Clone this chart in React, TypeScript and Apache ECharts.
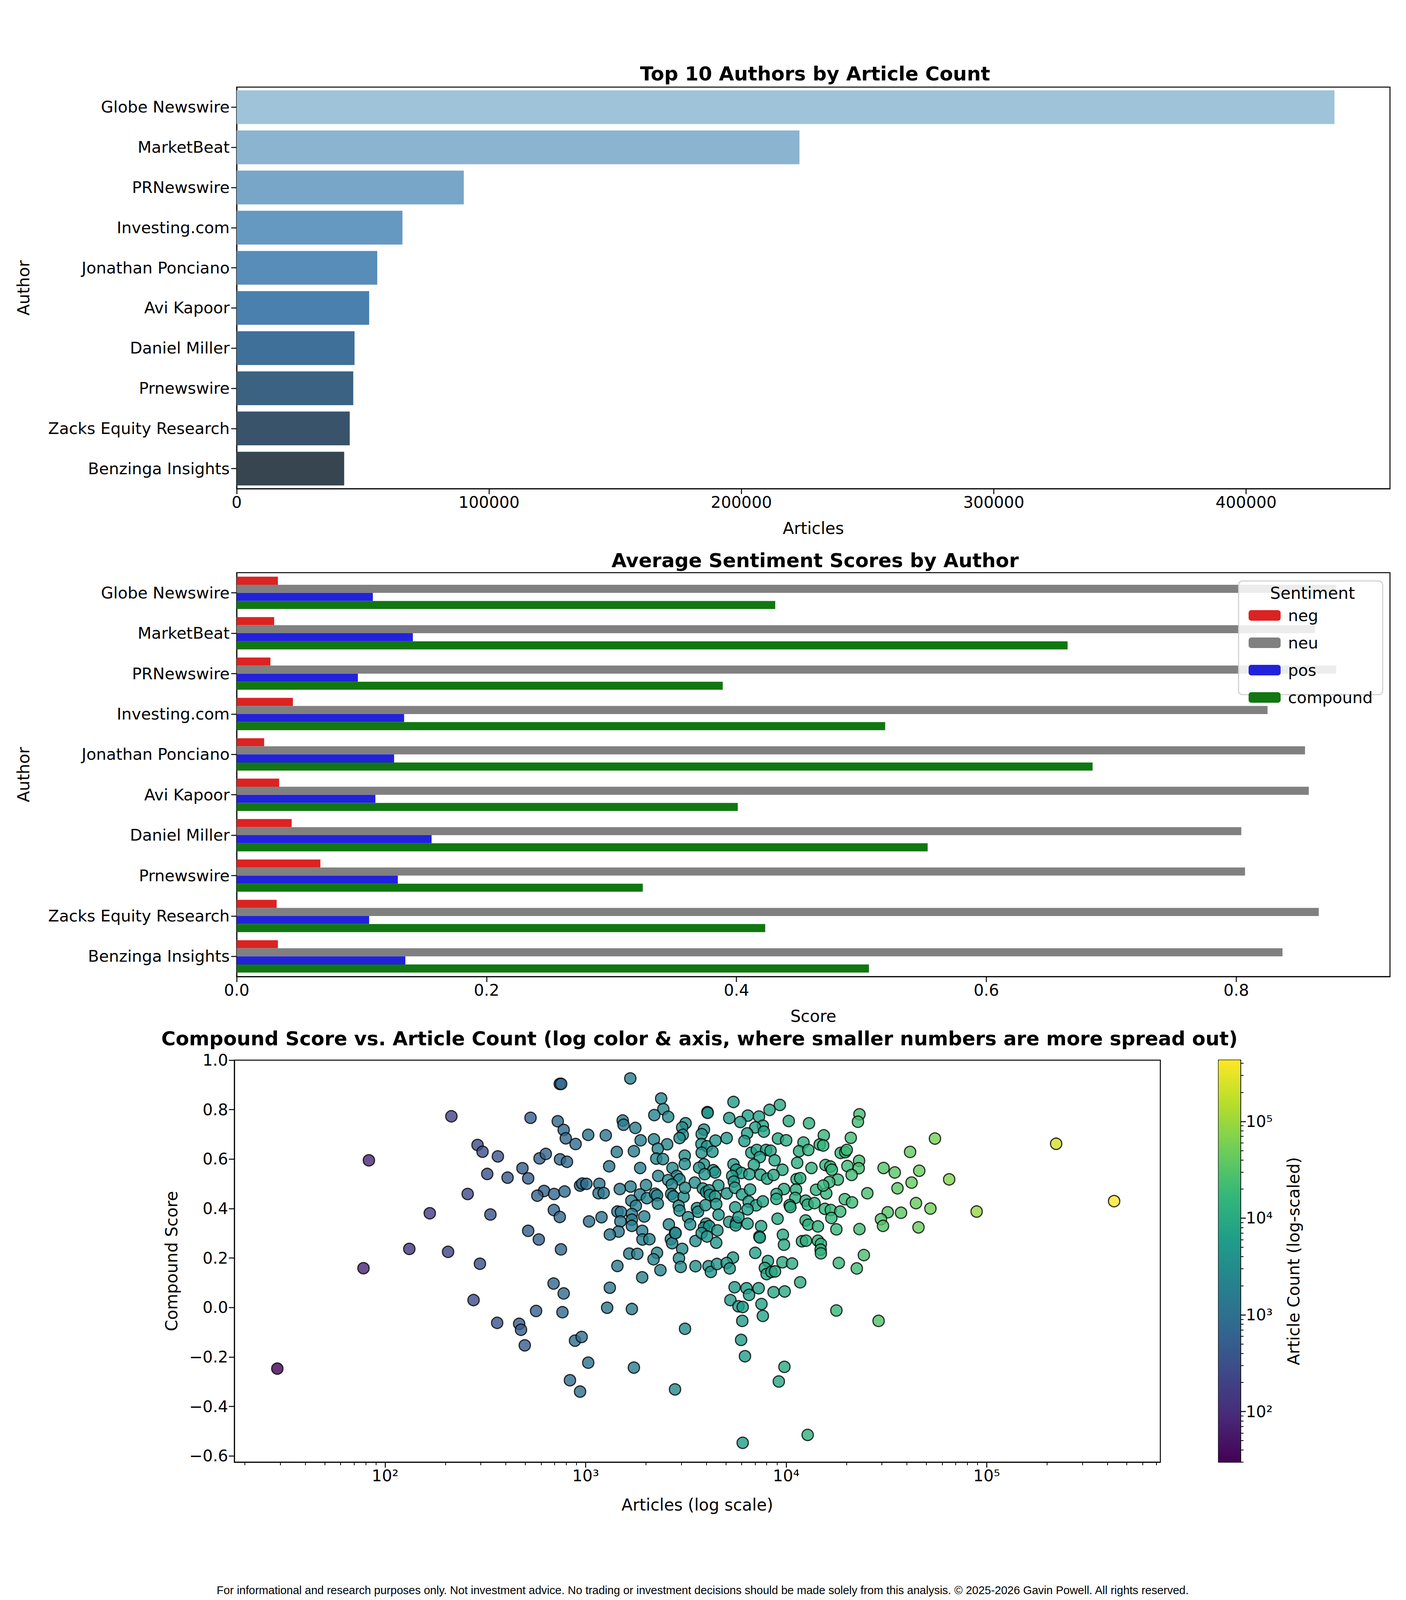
import React, { useEffect, useRef } from 'react';
import * as echarts from 'echarts';

// authors, top to bottom
const authors = [
  'Globe Newswire', 'MarketBeat', 'PRNewswire', 'Investing.com', 'Jonathan Ponciano',
  'Avi Kapoor', 'Daniel Miller', 'Prnewswire', 'Zacks Equity Research', 'Benzinga Insights',
];
const articleCounts = [435000, 223000, 90000, 65700, 55700, 52500, 46700, 46200, 44800, 42600];
const barColors = ['#9fc3d9', '#8bb4d0', '#77a6c8', '#6699c2', '#588db9', '#4a80ae', '#3f709a', '#3b6281', '#38536a', '#36454f'];

const negScores = [0.033, 0.030, 0.027, 0.045, 0.022, 0.034, 0.044, 0.067, 0.032, 0.033];
const neuScores = [0.880, 0.863, 0.880, 0.825, 0.855, 0.858, 0.804, 0.807, 0.866, 0.837];
const posScores = [0.109, 0.141, 0.097, 0.134, 0.126, 0.111, 0.156, 0.129, 0.106, 0.135];
const compoundScores = [0.431, 0.665, 0.389, 0.519, 0.685, 0.401, 0.553, 0.325, 0.423, 0.506];

// [articles, compound score] for every author
const authorPoints: [number, number][] = [
  [214, 0.773], [531, 0.767], [726, 0.753], [777, 0.718], [796, 0.684], [891, 0.661], [743, 0.904], [755, 0.904],
  [289, 0.657], [306, 0.630], [365, 0.611], [83, 0.595], [589, 0.603], [633, 0.621], [745, 0.599], [807, 0.589],
  [484, 0.563], [323, 0.540], [408, 0.525], [517, 0.522], [938, 0.493], [961, 0.501], [258, 0.459], [620, 0.471],
  [574, 0.452], [696, 0.459], [785, 0.469], [167, 0.381], [335, 0.376], [694, 0.394], [743, 0.366], [517, 0.310],
  [584, 0.275], [132, 0.237], [206, 0.225], [753, 0.235], [78, 0.159], [297, 0.177], [692, 0.097], [777, 0.057],
  [276, 0.030], [566, -0.014], [766, -0.019], [362, -0.062], [466, -0.066], [476, -0.090], [497, -0.153],
  [885, -0.134], [955, -0.119], [29, -0.247], [835, -0.294], [938, -0.340],
  [1670, 0.926], [2380, 0.845], [5460, 0.831], [9300, 0.819], [2440, 0.802], [4050, 0.790], [4060, 0.787],
  [2200, 0.778], [2580, 0.771], [8260, 0.799], [6440, 0.776], [7320, 0.772], [5200, 0.766], [5910, 0.750],
  [23200, 0.781], [22800, 0.751], [10300, 0.754], [13000, 0.745], [1530, 0.756], [1545, 0.739], [1770, 0.726],
  [3150, 0.745], [3030, 0.728], [3890, 0.719], [7650, 0.735], [7010, 0.728], [7740, 0.711], [6390, 0.704],
  [3790, 0.701], [3050, 0.698], [2940, 0.685], [5050, 0.685], [9100, 0.683], [10000, 0.676], [2190, 0.680],
  [1880, 0.676], [1260, 0.696], [1030, 0.698], [55200, 0.683], [222000, 0.662], [21000, 0.686], [15400, 0.696],
  [2550, 0.660], [2290, 0.642], [3780, 0.661], [4030, 0.652], [4440, 0.675], [6190, 0.673], [12200, 0.667],
  [14700, 0.659], [15300, 0.655], [1430, 0.629], [1740, 0.632], [3790, 0.626], [4290, 0.630], [6700, 0.626],
  [7140, 0.637], [7940, 0.637], [8360, 0.634], [11600, 0.632], [12900, 0.637], [18700, 0.625], [19700, 0.628],
  [20050, 0.637], [41500, 0.629], [3120, 0.614], [2250, 0.602], [2430, 0.600], [7390, 0.608], [8760, 0.595],
  [1310, 0.571], [1870, 0.564], [2710, 0.564], [3120, 0.580], [3890, 0.579], [3680, 0.565], [4330, 0.555],
  [4420, 0.546], [5460, 0.579], [5640, 0.557], [5990, 0.544], [6900, 0.577], [9580, 0.557], [11350, 0.585],
  [13370, 0.564], [15700, 0.576], [16600, 0.570], [16900, 0.557], [20200, 0.572], [23100, 0.593], [23000, 0.563],
  [30600, 0.564], [34800, 0.546], [46100, 0.553], [2300, 0.532], [2850, 0.532], [2938, 0.518], [3920, 0.539],
  [5380, 0.532], [6550, 0.539], [7450, 0.537], [8040, 0.521], [8650, 0.536], [11270, 0.519], [11750, 0.523],
  [21200, 0.536], [18100, 0.517], [65000, 0.518], [1170, 0.500], [1009, 0.500], [2000, 0.495], [2580, 0.515],
  [2690, 0.497], [3500, 0.505], [4590, 0.494], [5480, 0.509], [1675, 0.489], [1480, 0.479], [1160, 0.462],
  [1230, 0.463], [1865, 0.457], [2020, 0.442], [2220, 0.460], [2270, 0.453], [2670, 0.459], [2740, 0.449],
  [3080, 0.448], [3130, 0.484], [3840, 0.481], [3990, 0.467], [4130, 0.474], [4160, 0.455], [4420, 0.449],
  [5060, 0.461], [5550, 0.484], [6020, 0.457], [6610, 0.477], [9750, 0.479], [8950, 0.459], [11200, 0.477],
  [8940, 0.439], [11100, 0.443], [14100, 0.476], [15850, 0.461], [16400, 0.507], [15300, 0.493], [25400, 0.462],
  [35900, 0.482], [42200, 0.505], [19600, 0.438], [21300, 0.425], [44400, 0.422], [1690, 0.432], [1780, 0.411],
  [2290, 0.420], [2910, 0.411], [2938, 0.392], [3590, 0.402], [3634, 0.387], [3960, 0.414], [4480, 0.418],
  [6500, 0.428], [7080, 0.413], [7650, 0.429], [10400, 0.414], [10500, 0.406], [12500, 0.432], [12800, 0.416],
  [13840, 0.422], [6420, 0.397], [5570, 0.405], [15600, 0.399], [16700, 0.394], [18600, 0.388], [32100, 0.385],
  [37400, 0.383], [52400, 0.400], [89100, 0.388], [432000, 0.430], [1440, 0.388], [1500, 0.386], [1700, 0.378],
  [1700, 0.355], [1960, 0.368], [1200, 0.365], [1040, 0.348], [1490, 0.348], [3240, 0.365], [4600, 0.375],
  [5200, 0.346], [5640, 0.344], [5600, 0.332], [5780, 0.365], [6420, 0.339], [7500, 0.329], [9060, 0.359],
  [12500, 0.352], [12900, 0.335], [14400, 0.328], [16800, 0.362], [29700, 0.357], [30400, 0.330], [45700, 0.324],
  [17800, 0.316], [23200, 0.317], [1700, 0.330], [2600, 0.336], [3320, 0.336], [3990, 0.339], [3890, 0.323],
  [4130, 0.329], [4540, 0.312], [1460, 0.307], [1914, 0.310], [1320, 0.295], [1920, 0.275], [2080, 0.276],
  [2660, 0.276], [2700, 0.260], [2790, 0.302], [2810, 0.301], [3530, 0.269], [3790, 0.301], [4030, 0.287],
  [4480, 0.262], [7350, 0.287], [7390, 0.283], [9630, 0.294], [9750, 0.254], [11990, 0.268], [12560, 0.270],
  [14400, 0.270], [14900, 0.257], [14850, 0.234], [14900, 0.219], [3030, 0.237], [1650, 0.218], [1810, 0.217],
  [2270, 0.221], [2180, 0.195], [2920, 0.199], [5430, 0.202], [7010, 0.221], [24400, 0.212], [1440, 0.168],
  [2360, 0.151], [2980, 0.164], [3530, 0.167], [4100, 0.167], [4210, 0.144], [4520, 0.176], [5050, 0.180],
  [5230, 0.158], [8110, 0.188], [7830, 0.160], [7990, 0.135], [8440, 0.144], [8800, 0.146], [9580, 0.183],
  [10700, 0.178], [18300, 0.180], [22500, 0.158], [1914, 0.122], [11750, 0.102], [1320, 0.080], [5530, 0.082],
  [6340, 0.078], [6530, 0.051], [7290, 0.078], [8650, 0.062], [9830, 0.065], [5270, 0.030], [5780, 0.005],
  [6070, 0.002], [7530, 0.014], [7650, -0.034], [1280, -0.001], [1700, -0.006], [17800, -0.012], [28900, -0.054],
  [6040, -0.054], [3130, -0.086], [5960, -0.131], [6230, -0.197], [1030, -0.223], [1740, -0.243], [9800, -0.240],
  [9190, -0.299], [2790, -0.331], [12800, -0.515], [6070, -0.547],
];

const scoreTicks = [-0.6, -0.4, -0.2, 0.0, 0.2, 0.4, 0.6, 0.8, 1.0];
const logTicks = [2, 3, 4, 5];
const viridis = ['#440154', '#482878', '#3e4989', '#31688e', '#26828e', '#1f9e89', '#35b779', '#6ece58', '#b5de2b', '#fde725'];
const FONT = 'DejaVu Sans';

const sup: Record<number, string> = { 2: '²', 3: '³', 4: '⁴', 5: '⁵' };
const minorLogs = (lo: number, hi: number) => {
  const out: number[] = [];
  for (let e = 1; e <= 5; e++) {
    for (let k = 2; k <= 9; k++) {
      const v = Math.log10(k * Math.pow(10, e));
      if (v >= lo && v <= hi) out.push(v);
    }
  }
  return out;
};

const App: React.FC = () => {
  const chartRef = useRef<HTMLDivElement>(null);
  const height = Math.min(window.innerHeight || 4580, 4580);

  useEffect(() => {
    const chart = echarts.init(chartRef.current!, null, { renderer: 'svg' });
    // layout is measured on a 4580px tall page; squeeze it to the real viewport
    const k = height / 4580;
    const sy = (v: number) => Math.round(v * k);

    const xMin = 1.248, xMax = 5.866;
    const cMin = Math.log10(30), cMax = Math.log10(430000);
    const tickLabel = { fontFamily: FONT, fontSize: 41, color: '#000' };
    const nameStyle = { fontFamily: FONT, fontSize: 42, color: '#000' };
    const axisLine = { show: true, onZero: false, lineStyle: { color: '#000', width: 2.5 } };
    const axisTick = { show: true, length: 14, lineStyle: { color: '#000', width: 2.5 } };
    const minorTick = { show: true, length: 8, lineStyle: { color: '#000', width: 2 } };
    const box = { show: true, borderColor: '#000', borderWidth: 2.5, backgroundColor: 'transparent' };
    const bold = { fontFamily: FONT, fontSize: 50, fontWeight: 'bold', color: '#000' };

    const sentiment: [string, number[], string][] = [
      ['neg', negScores, '#dd2222'],
      ['neu', neuScores, '#808080'],
      ['pos', posScores, '#2222dd'],
      ['compound', compoundScores, '#117711'],
    ];

    const series: any[] = [
      { type: 'bar', xAxisIndex: 0, yAxisIndex: 0, barCategoryGap: '16%',
        data: articleCounts.map((v, i) => ({ value: v, itemStyle: { color: barColors[i] } })) },
      ...sentiment.map(([name, data, color]) => ({
        name, type: 'bar', xAxisIndex: 1, yAxisIndex: 1, data, barGap: '0%', barCategoryGap: '20%',
        itemStyle: { color },
      })),
      { type: 'scatter', xAxisIndex: 2, yAxisIndex: 2, symbolSize: 29,
        data: authorPoints.map(([a, s]) => [Math.log10(a), s, Math.log10(a)]),
        itemStyle: { opacity: 0.8, borderColor: '#000', borderWidth: 3 } },
    ];

    const option: any = {
      animation: false,
      backgroundColor: '#fff',
      title: [
        { text: 'Top 10 Authors by Article Count', left: 2082, top: sy(178), textAlign: 'center', textStyle: bold },
        { text: 'Average Sentiment Scores by Author', left: 2082, top: sy(1571), textAlign: 'center', textStyle: bold },
        { text: 'Compound Score vs. Article Count (log color & axis, where smaller numbers are more spread out)',
          left: 1786, top: sy(2940), textAlign: 'center', textStyle: bold },
      ],
      grid: [
        { left: 606, width: 2953, top: sy(249), height: sy(1150), ...box },
        { left: 606, width: 2953, top: sy(1639), height: sy(1156), ...box },
        { left: 600, width: 2371, top: sy(3035), height: sy(1151), ...box },
        { left: 3120, width: 56, top: sy(3035), height: sy(1151), ...box },
      ],
      legend: {
        data: ['neg', 'neu', 'pos', 'compound'],
        orient: 'vertical', left: 3192, top: sy(1733), itemWidth: 82, itemHeight: 27, itemGap: sy(63) - 27, z: 10,
        textStyle: { fontFamily: FONT, fontSize: 41, color: '#000', padding: [0, 0, 0, 14] },
      },
      visualMap: {
        type: 'continuous', min: cMin, max: cMax, dimension: 2, seriesIndex: series.length - 1,
        left: 3120, top: sy(3035), itemWidth: 56, itemHeight: sy(1151), padding: 0,
        calculable: false, showLabel: false,
        inRange: { color: viridis },
      },
      xAxis: [
        { gridIndex: 0, type: 'value', min: 0, max: 457000, interval: 100000, name: 'Articles',
          nameLocation: 'middle', nameGap: 80, nameTextStyle: nameStyle,
          axisLabel: { ...tickLabel, margin: 14, showMaxLabel: false, formatter: (v: number) => String(v) },
          axisLine, axisTick, splitLine: { show: false } },
        { gridIndex: 1, type: 'value', min: 0, max: 0.923, interval: 0.2, name: 'Score',
          nameLocation: 'middle', nameGap: 80, nameTextStyle: nameStyle,
          axisLabel: { ...tickLabel, margin: 14, showMaxLabel: false, formatter: (v: number) => v.toFixed(1) },
          axisLine, axisTick, splitLine: { show: false } },
        { gridIndex: 2, type: 'value', min: xMin, max: xMax, name: 'Articles (log scale)', position: 'bottom',
          nameLocation: 'middle', nameGap: 88, nameTextStyle: nameStyle,
          axisLabel: { ...tickLabel, margin: 14, customValues: logTicks, formatter: (v: number) => '10' + sup[Math.round(v)] },
          axisLine, axisTick: { ...axisTick, customValues: logTicks }, splitLine: { show: false } },
        { gridIndex: 2, type: 'value', min: xMin, max: xMax, position: 'bottom',
          axisLine: { show: false, onZero: false }, axisLabel: { show: false },
          axisTick: { ...minorTick, customValues: minorLogs(xMin, xMax) }, splitLine: { show: false } },
        { gridIndex: 3, type: 'value', min: 0, max: 1, show: false },
      ],
      yAxis: [
        { gridIndex: 0, type: 'category', data: authors, inverse: true, name: 'Author',
          nameLocation: 'middle', nameGap: 525, nameTextStyle: nameStyle,
          axisLabel: { ...tickLabel, margin: 18 }, axisLine, axisTick: { ...axisTick, alignWithLabel: true } },
        { gridIndex: 1, type: 'category', data: authors, inverse: true, name: 'Author',
          nameLocation: 'middle', nameGap: 525, nameTextStyle: nameStyle,
          axisLabel: { ...tickLabel, margin: 18 }, axisLine, axisTick: { ...axisTick, alignWithLabel: true } },
        { gridIndex: 2, type: 'value', min: -0.625, max: 1.0, name: 'Compound Score', position: 'left',
          nameLocation: 'middle', nameGap: 140, nameTextStyle: nameStyle,
          axisLabel: { ...tickLabel, margin: 16, customValues: scoreTicks,
            formatter: (v: number) => (v < 0 ? '\u2212' + Math.abs(v).toFixed(1) : v.toFixed(1)) },
          axisLine, axisTick: { ...axisTick, customValues: scoreTicks }, splitLine: { show: false } },
        { gridIndex: 3, type: 'value', min: cMin, max: cMax, position: 'right',
          name: 'Article Count (log-scaled)', nameLocation: 'middle', nameGap: 115, nameRotate: 90,
          nameTextStyle: nameStyle,
          axisLabel: { ...tickLabel, margin: 14, customValues: logTicks, formatter: (v: number) => '10' + sup[Math.round(v)] },
          axisLine, axisTick: { ...axisTick, customValues: logTicks }, splitLine: { show: false } },
        { gridIndex: 3, type: 'value', min: cMin, max: cMax, position: 'right',
          axisLine: { show: false, onZero: false }, axisLabel: { show: false },
          axisTick: { ...minorTick, customValues: minorLogs(cMin, cMax) }, splitLine: { show: false } },
      ],
      series,
      graphic: [
        { type: 'rect', left: 3170, top: sy(1662), z: 5, shape: { width: 369, height: sy(325), r: 10 },
          style: { fill: 'rgba(255,255,255,0.85)', stroke: '#cccccc', lineWidth: 2.5 } },
        { type: 'text', left: 3252, top: sy(1674), z: 6,
          style: { text: 'Sentiment', fontFamily: FONT, fontSize: 42, fill: '#000' } },
        { type: 'text', left: 'center', top: sy(4535),
          style: { text: 'For informational and research purposes only. Not investment advice. No trading or investment decisions should be made solely from this analysis. © 2025-2026 Gavin Powell. All rights reserved.',
            fontFamily: 'Liberation Sans', fontSize: 29, fill: '#000' } },
      ],
    };

    chart.setOption(option);
    return () => chart.dispose();
  }, [height]);

  return <div ref={chartRef} style={{ position: 'absolute', left: 0, top: 0, width: 3600, height }} />;
};

export default App;
